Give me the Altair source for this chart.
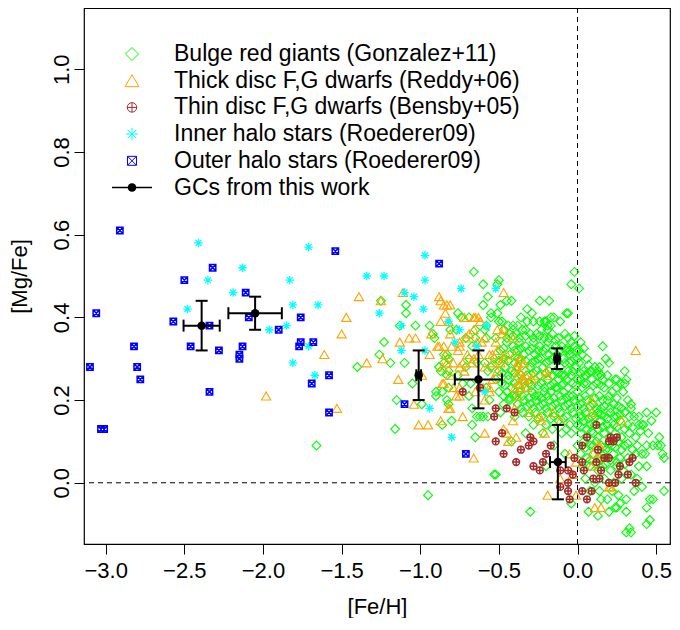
import altair as alt
import pandas as pd

# ---------------- data ([Fe/H], [Mg/Fe]) ----------------
bulge = [
    (-1.66, 0.09), (-1.40, 0.28), (-1.23, 0.34), (-1.26, 0.31), (-1.19, 0.29), (-1.10, 0.29),
    (-1.09, 0.43), (-1.09, 0.41), (-1.25, 0.44), (-1.13, 0.38), (-1.03, 0.38), (-0.94, 0.38),
    (-0.92, 0.36), (-0.91, 0.35), (-1.05, 0.24), (-1.15, 0.20), (-1.16, 0.13), (-0.99, 0.19),
    (-0.90, 0.21), (-0.86, 0.14), (-0.80, 0.15), (-0.83, 0.20), (-0.82, 0.19), (-0.86, 0.22),
    (-0.82, 0.23), (-0.88, 0.28), (-0.85, 0.29), (-0.82, 0.27), (-0.83, 0.26), (-0.87, 0.27),
    (-0.85, 0.31), (-0.83, 0.31), (-0.76, 0.41), (-0.74, 0.40), (-0.69, 0.40), (-0.65, 0.37),
    (-0.77, 0.37), (-0.81, 0.37), (-0.66, 0.51), (-0.60, 0.48), (-0.57, 0.45), (-0.60, 0.43),
    (-0.55, 0.41), (-0.55, 0.40), (-0.58, 0.38), (-0.65, 0.35), (-0.71, 0.35), (-0.58, 0.35),
    (-0.67, 0.33), (-0.69, 0.30), (-0.64, 0.29), (-0.59, 0.29), (-0.57, 0.27), (-0.71, 0.28),
    (-0.76, 0.26), (-0.73, 0.24), (-0.68, 0.24), (-0.69, 0.21), (-0.67, 0.18), (-0.64, 0.16),
    (-0.60, 0.16), (-0.57, 0.16), (-0.62, 0.16), (-0.67, 0.14), (-0.65, 0.11), (-0.53, 0.02),
    (-0.50, 0.49), (-0.51, 0.48), (-0.49, 0.43), (-0.45, 0.44), (-0.42, 0.44), (-0.51, 0.41),
    (-0.59, 0.37), (-0.24, 0.44), (-0.18, 0.44), (-0.32, 0.42), (-0.29, 0.41), (-0.36, 0.40),
    (-0.32, 0.39), (-0.28, 0.39), (-0.24, 0.39), (-0.20, 0.39), (-0.17, 0.40), (-0.50, 0.39),
    (-0.48, 0.39), (-0.44, 0.38), (-0.41, 0.38), (-0.38, 0.38), (-0.33, 0.37), (-0.23, 0.37),
    (-0.19, 0.37), (-0.82, 0.30), (-0.90, 0.22), (-0.02, 0.51), (-0.04, 0.48), (0.01, 0.47),
    (0.16, 0.33), (0.18, 0.30), (0.20, 0.29), (0.30, 0.27), (0.25, 0.25), (0.31, 0.25),
    (0.02, 0.34), (-0.02, 0.33), (-0.05, 0.32), (-0.07, 0.41), (-0.06, 0.41), (-0.11, 0.39),
    (-0.15, 0.40), (-0.17, 0.38), (-0.21, 0.39), (-0.19, 0.38), (-0.07, 0.32), (-0.05, 0.29),
    (0.01, 0.29), (0.01, 0.32), (0.09, 0.27), (0.13, 0.26), (0.08, 0.27), (0.14, 0.28),
    (0.15, 0.26), (0.19, 0.26), (0.24, 0.25), (0.30, 0.24), (0.02, 0.25), (0.06, 0.24),
    (-0.09, 0.24), (-0.03, 0.27), (0.16, 0.25), (0.25, 0.23), (0.34, 0.19), (0.39, 0.14),
    (0.41, 0.14), (0.54, 0.07), (0.55, 0.06), (0.38, 0.09), (0.44, 0.09), (0.48, 0.09),
    (0.51, 0.09), (0.53, 0.09), (0.41, 0.07), (0.43, 0.07), (0.39, 0.04), (0.44, 0.04),
    (0.55, -0.02), (0.48, -0.04), (0.46, -0.04), (0.44, -0.06), (0.31, -0.04), (0.27, -0.05),
    (0.24, -0.06), (0.31, -0.07), (0.33, -0.11), (0.34, -0.12), (0.31, -0.12), (0.46, -0.09),
    (0.44, -0.10), (0.13, -0.08), (0.20, -0.07), (0.25, -0.06), (0.19, -0.04), (0.15, -0.04),
    (0.07, -0.07), (-0.04, -0.05), (-0.30, -0.07), (-0.52, 0.02), (-0.95, -0.03),
    (-0.47, 0.37), (-0.43, 0.36), (-0.39, 0.36), (-0.35, 0.37), (-0.30, 0.36), (-0.26, 0.36),
    (-0.21, 0.35), (-0.16, 0.36), (-0.12, 0.35), (-0.08, 0.36), (-0.52, 0.35), (-0.45, 0.34),
    (-0.41, 0.33), (-0.37, 0.34), (-0.33, 0.33), (-0.28, 0.34), (-0.24, 0.33), (-0.19, 0.34),
    (-0.14, 0.33), (-0.10, 0.33), (-0.04, 0.34), (-0.49, 0.32), (-0.43, 0.31), (-0.38, 0.32),
    (-0.34, 0.31), (-0.31, 0.32), (-0.27, 0.31), (-0.22, 0.32), (-0.18, 0.31), (-0.13, 0.31),
    (-0.09, 0.30), (-0.05, 0.31), (-0.53, 0.30), (-0.47, 0.30), (-0.40, 0.29), (-0.36, 0.30),
    (-0.29, 0.29), (-0.25, 0.30), (-0.20, 0.29), (-0.16, 0.30), (-0.11, 0.28), (-0.02, 0.30),
    (0.03, 0.31), (0.06, 0.30),
    (-0.55, 0.28), (-0.50, 0.27), (-0.46, 0.28), (-0.42, 0.27), (-0.38, 0.28), (-0.33, 0.27),
    (-0.30, 0.28), (-0.26, 0.27), (-0.22, 0.28), (-0.18, 0.27), (-0.14, 0.27), (-0.10, 0.26),
    (-0.06, 0.27), (-0.01, 0.28), (0.04, 0.27), (0.11, 0.28), (-0.52, 0.25), (-0.48, 0.24),
    (-0.44, 0.25), (-0.40, 0.24), (-0.35, 0.25), (-0.31, 0.24), (-0.27, 0.25), (-0.23, 0.24),
    (-0.19, 0.25), (-0.15, 0.24), (-0.12, 0.25), (-0.07, 0.25), (-0.03, 0.24), (0.00, 0.25),
    (0.05, 0.26), (0.09, 0.25), (0.12, 0.24), (0.20, 0.24), (0.27, 0.24), (-0.58, 0.23),
    (-0.50, 0.22), (-0.45, 0.22), (-0.41, 0.21), (-0.37, 0.22), (-0.33, 0.23), (-0.29, 0.22),
    (-0.25, 0.21), (-0.21, 0.22), (-0.17, 0.22), (-0.13, 0.23), (-0.09, 0.22), (-0.05, 0.21),
    (0.00, 0.22), (0.03, 0.23), (0.08, 0.22), (0.14, 0.21), (0.17, 0.23), (0.22, 0.22),
    (0.29, 0.22),
    (-0.56, 0.20), (-0.47, 0.19), (-0.43, 0.20), (-0.38, 0.19), (-0.34, 0.20), (-0.30, 0.19),
    (-0.26, 0.20), (-0.22, 0.19), (-0.18, 0.20), (-0.14, 0.19), (-0.10, 0.20), (-0.06, 0.19),
    (-0.02, 0.20), (0.02, 0.19), (0.06, 0.20), (0.10, 0.19), (0.15, 0.18), (0.19, 0.20),
    (0.23, 0.19), (0.28, 0.18), (0.32, 0.20), (-0.49, 0.17), (-0.40, 0.16), (-0.35, 0.17),
    (-0.31, 0.16), (-0.27, 0.17), (-0.23, 0.16), (-0.19, 0.17), (-0.15, 0.16), (-0.11, 0.17),
    (-0.07, 0.16), (-0.03, 0.17), (0.01, 0.16), (0.05, 0.17), (0.09, 0.16), (0.13, 0.17),
    (0.17, 0.16), (0.21, 0.17), (0.25, 0.16), (0.30, 0.17), (0.36, 0.16), (0.44, 0.17),
    (0.50, 0.17), (-0.28, 0.14), (-0.20, 0.14), (-0.12, 0.15), (-0.05, 0.14), (0.00, 0.14),
    (0.04, 0.15), (0.08, 0.14), (0.11, 0.14), (0.15, 0.15), (0.19, 0.14), (0.23, 0.14),
    (0.27, 0.15), (0.32, 0.14), (0.42, 0.14), (0.47, 0.15),
    (-0.33, 0.12), (-0.22, 0.12), (-0.10, 0.12), (-0.04, 0.12), (0.02, 0.12), (0.06, 0.11),
    (0.10, 0.12), (0.13, 0.11), (0.17, 0.12), (0.20, 0.11), (0.24, 0.12), (0.28, 0.11),
    (0.33, 0.12), (0.37, 0.11), (0.45, 0.12), (0.52, 0.11), (-0.42, 0.10), (-0.15, 0.09),
    (0.00, 0.09), (0.04, 0.10), (0.08, 0.09), (0.12, 0.10), (0.15, 0.09), (0.18, 0.08),
    (0.22, 0.09), (0.26, 0.10), (0.30, 0.09), (0.35, 0.08), (-0.08, 0.07), (0.02, 0.07),
    (0.06, 0.06), (0.10, 0.07), (0.14, 0.06), (0.17, 0.07), (0.19, 0.06), (0.23, 0.07),
    (0.27, 0.06), (0.32, 0.06), (0.37, 0.07),
    (-0.20, 0.04), (0.03, 0.04), (0.08, 0.04), (0.13, 0.03), (0.16, 0.04), (0.21, 0.03),
    (0.25, 0.04), (0.29, 0.03), (0.34, 0.02), (0.05, 0.01), (0.11, 0.00), (0.17, 0.01),
    (0.23, 0.00), (0.28, 0.01), (0.38, 0.01), (0.08, -0.02), (0.14, -0.02), (0.22, -0.02),
    (0.26, -0.03), (0.36, -0.02), (0.41, -0.01),
    (-0.45, 0.35), (-0.41, 0.355), (-0.37, 0.35), (-0.33, 0.355), (-0.28, 0.35), (-0.24, 0.355),
    (-0.18, 0.35), (-0.14, 0.345), (-0.06, 0.35), (-0.02, 0.355),
    (-0.47, 0.325), (-0.40, 0.32), (-0.36, 0.325), (-0.29, 0.325), (-0.25, 0.32), (-0.20, 0.325),
    (-0.16, 0.32), (-0.11, 0.32), (-0.07, 0.325), (-0.01, 0.32), (0.04, 0.325),
    (-0.50, 0.295), (-0.44, 0.295), (-0.38, 0.30), (-0.33, 0.295), (-0.27, 0.295), (-0.23, 0.30),
    (-0.18, 0.295), (-0.13, 0.295), (-0.08, 0.29), (-0.04, 0.295), (0.00, 0.30), (0.07, 0.285),
    (-0.48, 0.265), (-0.44, 0.26), (-0.40, 0.265), (-0.36, 0.26), (-0.32, 0.26), (-0.28, 0.265),
    (-0.24, 0.26), (-0.20, 0.265), (-0.16, 0.26), (-0.12, 0.265), (-0.08, 0.26), (-0.04, 0.26),
    (0.02, 0.265), (0.07, 0.265), (0.13, 0.27),
    (-0.46, 0.235), (-0.42, 0.23), (-0.38, 0.235), (-0.34, 0.24), (-0.29, 0.235), (-0.25, 0.235),
    (-0.21, 0.23), (-0.17, 0.235), (-0.14, 0.23), (-0.10, 0.235), (-0.06, 0.23), (-0.01, 0.235),
    (0.04, 0.24), (0.10, 0.235), (0.15, 0.235),
    (-0.47, 0.21), (-0.43, 0.205), (-0.39, 0.21), (-0.35, 0.21), (-0.31, 0.205), (-0.27, 0.21),
    (-0.23, 0.205), (-0.19, 0.21), (-0.15, 0.205), (-0.11, 0.21), (-0.07, 0.205), (-0.03, 0.21),
    (0.01, 0.205), (0.05, 0.21), (0.11, 0.205), (0.16, 0.20), (0.20, 0.21), (0.25, 0.205),
    (-0.36, 0.18), (-0.32, 0.185), (-0.28, 0.18), (-0.24, 0.185), (-0.20, 0.18), (-0.16, 0.185),
    (-0.12, 0.18), (-0.08, 0.185), (-0.04, 0.18), (0.00, 0.185), (0.04, 0.18), (0.08, 0.185),
    (0.12, 0.18), (0.17, 0.185), (0.21, 0.18), (0.26, 0.185), (0.34, 0.18),
    (-0.25, 0.155), (-0.17, 0.155), (-0.09, 0.155), (-0.01, 0.155), (0.03, 0.16), (0.07, 0.155),
    (0.11, 0.16), (0.15, 0.165), (0.19, 0.155), (0.23, 0.16), (0.27, 0.165), (0.33, 0.16),
    (0.39, 0.16),
    (-0.16, 0.13), (-0.07, 0.13), (0.02, 0.135), (0.06, 0.13), (0.09, 0.125), (0.13, 0.13),
    (0.16, 0.135), (0.21, 0.13), (0.25, 0.135), (0.30, 0.13), (0.35, 0.135), (0.40, 0.125),
    (0.05, 0.085), (0.10, 0.09), (0.16, 0.085), (0.20, 0.095), (0.24, 0.085), (0.28, 0.08),
    (0.32, 0.095), (0.08, 0.055), (0.12, 0.045), (0.15, 0.055), (0.18, 0.045), (0.21, 0.055),
    (0.25, 0.05), (0.30, 0.045),
]

thick_disc = [
    (-1.39, 0.45), (-1.47, 0.40), (-1.50, 0.36), (-1.61, 0.31), (-1.34, 0.29), (-1.98, 0.21),
    (-1.53, 0.18), (-1.25, 0.44), (-1.11, 0.46), (-1.13, 0.34), (-1.07, 0.35), (-1.03, 0.35),
    (-1.24, 0.30), (-1.14, 0.25), (-0.94, 0.31), (-1.04, 0.19), (-1.01, 0.14), (-0.95, 0.14),
    (-0.87, 0.44), (-0.85, 0.43), (-0.83, 0.43), (-0.81, 0.43), (-0.87, 0.39), (-0.82, 0.39),
    (-0.81, 0.36), (-0.88, 0.33), (-0.85, 0.33), (-0.80, 0.33), (-0.83, 0.29), (-0.79, 0.29),
    (-0.75, 0.28), (-0.86, 0.24), (-0.81, 0.26), (-0.82, 0.18), (-0.81, 0.18), (-0.87, 0.15),
    (-0.73, 0.16), (-0.69, 0.36), (-0.66, 0.37), (-0.65, 0.40), (-0.63, 0.40), (-0.66, 0.40),
    (-0.59, 0.35), (-0.63, 0.31), (-0.67, 0.29), (-0.72, 0.27), (-0.59, 0.20), (-0.59, 0.12),
    (-0.66, 0.06), (-0.56, 0.23), (-0.88, 0.45), (-0.84, 0.41), (-0.72, 0.40), (-0.62, 0.39),
    (-0.47, 0.46), (-0.93, 0.36), (-0.89, 0.33), (-0.75, 0.34), (-0.75, 0.33), (-0.71, 0.35),
    (-0.64, 0.34), (-0.61, 0.34), (-0.51, 0.37), (-0.48, 0.36), (-0.47, 0.37), (-0.52, 0.34),
    (-0.84, 0.31), (-0.76, 0.32), (-0.70, 0.31), (-0.66, 0.30), (-0.73, 0.29), (-0.99, 0.26),
    (-0.86, 0.28), (-0.85, 0.24), (-0.56, 0.31), (-0.54, 0.29), (-0.47, 0.30), (-0.51, 0.27),
    (-0.54, 0.25), (-0.40, 0.31), (-0.36, 0.30), (-0.39, 0.28), (-0.34, 0.25), (-0.37, 0.24),
    (-0.32, 0.23), (-0.20, 0.27), (-0.19, 0.26), (-0.79, 0.23), (-0.75, 0.23), (-0.65, 0.22),
    (-0.60, 0.23), (-0.56, 0.22), (-0.77, 0.21), (-0.75, 0.21), (-0.51, 0.32), (-0.54, 0.31),
    (-0.49, 0.29), (-0.59, 0.28), (-0.45, 0.31), (-0.41, 0.35), (-0.38, 0.29), (-0.34, 0.29),
    (-0.37, 0.27), (-0.33, 0.26), (-0.28, 0.26), (-0.38, 0.26), (0.37, 0.32), (-0.40, 0.18),
    (-0.41, 0.15), (-0.45, 0.12), (-0.44, 0.10), (-0.39, 0.11), (-0.47, 0.13), (-0.35, 0.25),
    (-0.29, 0.25), (-0.40, 0.23), (-0.36, 0.23), (-0.38, 0.21), (-0.30, 0.17), (-0.23, 0.15),
    (-0.21, 0.12), (-0.16, 0.17), (-0.11, 0.15), (-0.05, 0.07), (-0.03, 0.02), (-0.01, 0.05),
    (-0.19, -0.03), (-0.11, 0.01), (-0.01, -0.03), (0.09, 0.20), (0.09, 0.17), (0.09, 0.04),
    (0.10, 0.07), (0.13, 0.09), (0.14, 0.09), (0.14, 0.06), (0.11, -0.06), (0.15, -0.06),
    (0.20, -0.01), (0.21, -0.01), (0.28, 0.15), (-0.24, 0.16),
]

thin_disc = [
    (-0.52, 0.18), (-0.45, 0.18), (-0.53, 0.16), (-0.48, 0.12), (-0.30, 0.11), (-0.28, 0.10),
    (-0.31, 0.09), (-0.36, 0.08), (-0.47, 0.07), (-0.39, 0.05), (-0.17, 0.09), (-0.20, 0.07),
    (-0.22, 0.05), (-0.28, 0.04), (-0.24, 0.03), (-0.11, 0.03), (-0.06, 0.03), (-0.03, 0.02),
    (-0.06, 0.00), (-0.06, -0.02), (-0.11, -0.01), (-0.05, -0.04), (0.06, -0.04), (0.03, -0.02),
    (0.09, -0.02), (-0.02, 0.06), (0.03, 0.09), (0.03, 0.05), (0.04, 0.03), (0.06, 0.11),
    (0.12, 0.14), (0.13, 0.08), (0.12, 0.05), (0.10, 0.01), (0.14, 0.01), (0.15, 0.03),
    (0.17, 0.06), (0.20, 0.06), (0.21, 0.11), (0.23, 0.10), (0.25, 0.11), (0.20, 0.10),
    (0.20, 0.00), (0.24, 0.00), (0.26, 0.02), (0.27, 0.04), (0.32, 0.02), (0.33, 0.05),
    (0.35, 0.06), (0.37, 0.00), (-0.73, 0.22), (-0.40, 0.17), (-0.52, 0.10), (-0.62, 0.23),
]

inner_halo = [
    (-2.41, 0.58), (-2.13, 0.52), (-2.35, 0.49), (-2.19, 0.46), (-2.48, 0.42), (-1.71, 0.57),
    (-1.83, 0.49), (-1.34, 0.50), (-1.81, 0.43), (-1.65, 0.43), (-1.85, 0.38), (-1.96, 0.37),
    (-1.71, 0.33), (-1.81, 0.29), (-1.67, 0.26), (-1.23, 0.50), (-0.97, 0.55), (-0.97, 0.49),
    (-0.74, 0.47), (-1.10, 0.46), (-1.04, 0.45), (-1.26, 0.41), (-0.98, 0.42), (-0.82, 0.39),
    (-0.75, 0.37), (-1.12, 0.32), (-0.97, 0.32), (-1.12, 0.38), (-0.78, 0.34), (-0.94, 0.18),
    (-0.80, 0.11), (-0.58, 0.38), (-0.59, 0.22), (-0.64, 0.33), (-0.52, 0.47),
]

outer_halo = [
    (-2.91, 0.61), (-3.06, 0.41), (-3.10, 0.28), (-2.82, 0.33), (-2.80, 0.28), (-2.78, 0.25),
    (-3.03, 0.13), (-3.01, 0.13), (-2.32, 0.52), (-2.50, 0.49), (-2.11, 0.46), (-2.57, 0.39),
    (-2.34, 0.38), (-2.46, 0.33), (-2.28, 0.32), (-2.13, 0.33), (-2.15, 0.31), (-2.15, 0.30),
    (-2.34, 0.22), (-2.09, 0.40), (-1.54, 0.56), (-1.76, 0.40), (-1.90, 0.37), (-1.76, 0.34),
    (-1.77, 0.33), (-1.68, 0.34), (-1.58, 0.26), (-1.69, 0.24), (-1.58, 0.17), (-0.88, 0.53),
    (-1.10, 0.19), (-0.71, 0.07),
]

gc_feh = [-2.39, -2.05, -1.01, -0.63, -0.13, -0.125]
gc_feh_err = [0.115, 0.17, 0.015, 0.15, 0.015, 0.05]
gc_mgfe = [0.38, 0.41, 0.26, 0.25, 0.30, 0.05]
gc_mgfe_err = [0.06, 0.04, 0.06, 0.07, 0.025, 0.09]

legend_labels = [
    "Bulge red giants (Gonzalez+11)",
    "Thick disc F,G dwarfs (Reddy+06)",
    "Thin disc F,G dwarfs (Bensby+05)",
    "Inner halo stars (Roederer09)",
    "Outer halo stars (Roederer09)",
    "GCs from this work",
]

x_ticks = [-3.0, -2.5, -2.0, -1.5, -1.0, -0.5, 0.0, 0.5]
y_ticks = [0.0, 0.2, 0.4, 0.6, 0.8, 1.0]

# ---------------- styling ----------------
FONT = "Liberation Sans"
FS = 22
LEG_FS = 23
PLOT_W, PLOT_H = 586, 536
X_DOM = [-3.138, 0.588]
Y_DOM = [-0.148, 1.148]

CIRCLE_PLUS = "M-1,0A1,1,0,1,1,1,0A1,1,0,1,1,-1,0ZM-1,0L1,0M0,-1L0,1"
ASTERISK = "M-1,0L1,0M0,-1L0,1M-0.71,-0.71L0.71,0.71M-0.71,0.71L0.71,-0.71"
SQUARE_X = "M-1,-1L1,-1L1,1L-1,1ZM-1,-1L1,1M-1,1L1,-1"

xscale = alt.Scale(domain=X_DOM, nice=False, zero=False)
yscale = alt.Scale(domain=Y_DOM, nice=False, zero=False)

xaxis = alt.Axis(
    title="[Fe/H]", values=x_ticks, format=".1f", grid=False, domain=False,
    tickSize=10, tickColor="black", tickWidth=1,
    labelFont=FONT, labelFontSize=FS, labelColor="black", labelBaseline="alphabetic",
    labelPadding=23, labelFlush=False, labelOverlap=False,
    titleFont=FONT, titleFontSize=FS, titleFontWeight="normal", titleColor="black",
    titleBaseline="alphabetic", titleY=69,
)
yaxis = alt.Axis(
    title="[Mg/Fe]", values=y_ticks, format=".1f", grid=False, domain=False,
    tickSize=10, tickColor="black", tickWidth=1,
    labelFont=FONT, labelFontSize=FS, labelColor="black", labelAngle=270,
    labelAlign="center", labelBaseline="alphabetic", labelPadding=6,
    labelFlush=False, labelOverlap=False,
    titleFont=FONT, titleFontSize=FS, titleFontWeight="normal", titleColor="black",
    titleAngle=270, titleBaseline="alphabetic", titleX=-58,
)


def frame(pairs):
    return pd.DataFrame(pairs, columns=["feh", "mgfe"])


def scatter(pairs, shape, color, size, sw=1.0):
    return alt.Chart(frame(pairs)).mark_point(
        shape=shape, color=color, size=size, strokeWidth=sw, filled=False, opacity=1
    ).encode(
        x=alt.X("feh:Q", scale=xscale, axis=xaxis),
        y=alt.Y("mgfe:Q", scale=yscale, axis=yaxis),
    )


zero_h = alt.Chart(pd.DataFrame({"mgfe": [0.0]})).mark_rule(
    color="black", strokeDash=[5, 4], strokeWidth=1
).encode(y=alt.Y("mgfe:Q", scale=yscale, axis=yaxis))
zero_v = alt.Chart(pd.DataFrame({"feh": [0.0]})).mark_rule(
    color="black", strokeDash=[5, 4], strokeWidth=1
).encode(x=alt.X("feh:Q", scale=xscale, axis=xaxis))

series = [
    (bulge, "diamond", "#00ff00", 78, 1.1),
    (thick_disc, "triangle-up", "#ffa500", 85, 1.1),
    (thin_disc, CIRCLE_PLUS, "#a52a2a", 46, 1.5),
    (inner_halo, ASTERISK, "#00ffff", 72, 1.3),
    (outer_halo, SQUARE_X, "#0000ff", 40, 1.5),
]
scatter_layers = [scatter(p, s, c, z, w) for p, s, c, z, w in series]

gc = pd.DataFrame({"feh": gc_feh, "ferr": gc_feh_err, "mgfe": gc_mgfe, "merr": gc_mgfe_err})
gc_base = alt.Chart(gc).transform_calculate(
    xlo="datum.feh - datum.ferr", xhi="datum.feh + datum.ferr",
    ylo="datum.mgfe - datum.merr", yhi="datum.mgfe + datum.merr",
)


def X(f):
    return alt.X(f, scale=xscale, axis=xaxis)


def Y(f):
    return alt.Y(f, scale=yscale, axis=yaxis)


gc_xbar = gc_base.mark_rule(color="black", strokeWidth=2).encode(
    x=X("xlo:Q"), x2="xhi:Q", y=Y("mgfe:Q"))
gc_ybar = gc_base.mark_rule(color="black", strokeWidth=2).encode(
    x=X("feh:Q"), y=Y("ylo:Q"), y2="yhi:Q")
gc_ycaps = gc_base.transform_fold(["ylo", "yhi"], as_=["end", "yv"]).mark_tick(
    color="black", orient="horizontal", size=12, thickness=2, opacity=1
).encode(x=X("feh:Q"), y=Y("yv:Q"))
gc_xcaps = gc_base.transform_fold(["xlo", "xhi"], as_=["end", "xv"]).mark_tick(
    color="black", orient="vertical", size=12, thickness=2, opacity=1
).encode(x=X("xv:Q"), y=Y("mgfe:Q"))
gc_pts = alt.Chart(gc).mark_circle(color="black", size=72, opacity=1).encode(
    x=X("feh:Q"), y=Y("mgfe:Q"))

# ---------------- legend (drawn inside the plot, no box) ----------------
LEG_SYM_X, LEG_TXT_X, LEG_Y0, LEG_DY = 48, 90, 46, 26.7
legend_symbols = [
    ("diamond", "#00ff00", 170, 1.0),
    ("triangle-up", "#ffa500", 190, 1.0),
    (CIRCLE_PLUS, "#a52a2a", 90, 1.0),
    (ASTERISK, "#00ffff", 150, 1.0),
    (SQUARE_X, "#0000ff", 80, 1.0),
]
legend_layers = []
for i, label in enumerate(legend_labels):
    ly = LEG_Y0 + LEG_DY * i
    one = pd.DataFrame({"label": [label]})
    legend_layers.append(
        alt.Chart(one).mark_text(
            align="left", baseline="middle", font=FONT, fontSize=LEG_FS, color="black"
        ).encode(x=alt.value(LEG_TXT_X), y=alt.value(ly), text="label:N")
    )
    if i < len(legend_symbols):
        shp, col, sz, sw = legend_symbols[i]
        legend_layers.append(
            alt.Chart(one).mark_point(
                shape=shp, color=col, size=sz, strokeWidth=sw, filled=False, opacity=1
            ).encode(x=alt.value(LEG_SYM_X), y=alt.value(ly))
        )
    else:
        legend_layers.append(
            alt.Chart(one).mark_rule(color="black", strokeWidth=1.3).encode(
                x=alt.value(LEG_SYM_X - 20), x2=alt.value(LEG_SYM_X + 20), y=alt.value(ly))
        )
        legend_layers.append(
            alt.Chart(one).mark_circle(color="black", size=75, opacity=1).encode(
                x=alt.value(LEG_SYM_X), y=alt.value(ly))
        )

chart = alt.layer(
    zero_h, zero_v, *scatter_layers, gc_xbar, gc_ybar, gc_ycaps, gc_xcaps, gc_pts,
    *legend_layers,
).properties(
    width=PLOT_W, height=PLOT_H, autosize="none",
    padding={"left": 76, "top": 0, "right": 2, "bottom": 74},
    background="white",
).configure_view(stroke="black", strokeWidth=1.2)

chart.save("out.html", embed_options={"renderer": "svg", "actions": False})
